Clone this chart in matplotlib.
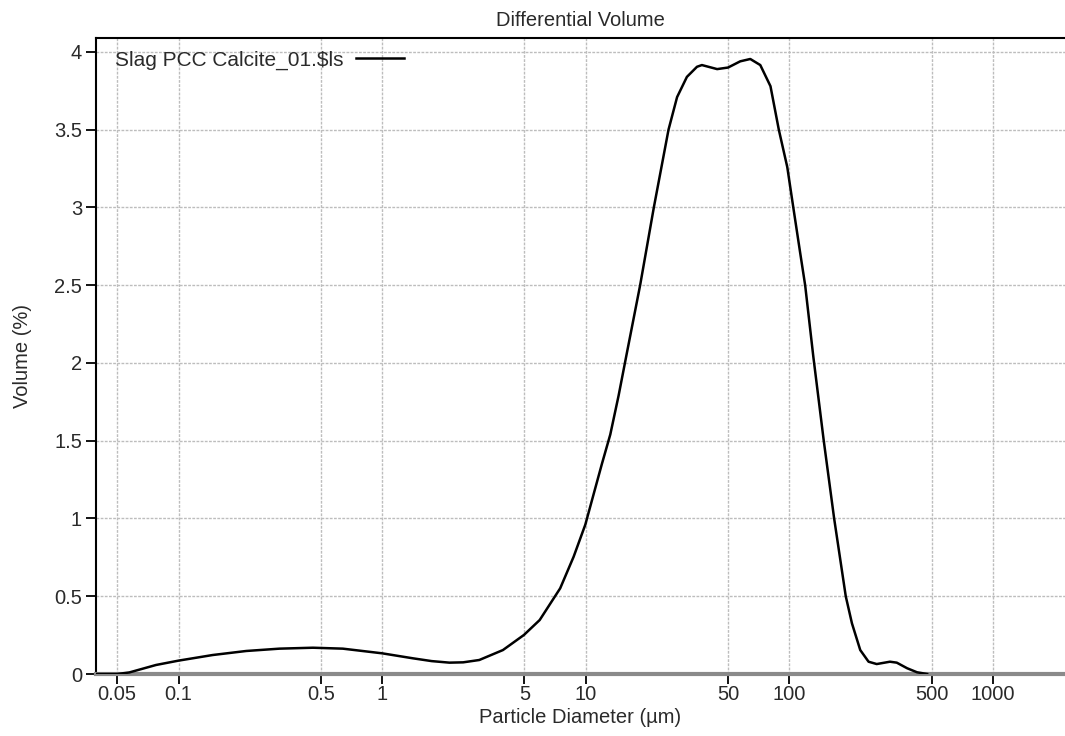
import matplotlib
matplotlib.use("Agg")
import matplotlib.pyplot as plt

plt.rcParams['font.family'] = ['Liberation Sans', 'DejaVu Sans']

diameter_um = [0.0393, 0.05, 0.0573, 0.0775, 0.1, 0.147, 0.215, 0.313, 0.457, 0.641,
               1.0, 1.415, 1.75, 2.14, 2.5, 3.0, 3.92, 4.97, 5.94, 7.49, 8.72, 9.95,
               10.9, 12.0, 13.2, 14.5, 15.9, 18.5, 21.6, 25.5, 28.1, 31.4, 35.2, 37.2,
               44.2, 50, 57.4, 64.3, 72, 80.8, 88.8, 97.7, 104.6, 113, 119.6, 131.2,
               147.6, 166, 189.3, 203, 223, 245, 268.6, 312, 337, 379, 424, 475]
volume_pct = [0.0, 0.0, 0.01, 0.058, 0.086, 0.122, 0.148, 0.163, 0.169, 0.163,
              0.133, 0.101, 0.083, 0.073, 0.075, 0.09, 0.154, 0.251, 0.347, 0.551, 0.754, 0.96,
              1.15, 1.35, 1.54, 1.79, 2.06, 2.5, 3.0, 3.5, 3.71, 3.84, 3.905, 3.916,
              3.89, 3.90, 3.94, 3.955, 3.916, 3.78, 3.50, 3.26, 3.0, 2.71, 2.5, 2.04,
              1.5, 1.0, 0.5, 0.326, 0.154, 0.079, 0.064, 0.079, 0.073, 0.037, 0.011, 0.0]

x_ticks = [0.05, 0.1, 0.5, 1, 5, 10, 50, 100, 500, 1000]
x_tick_labels = ["0.05", "0.1", "0.5", "1", "5", "10", "50", "100", "500", "1000"]
y_ticks = [0, 0.5, 1, 1.5, 2, 2.5, 3, 3.5, 4]
y_tick_labels = ["0", "0.5", "1", "1.5", "2", "2.5", "3", "3.5", "4"]
series_name = r"Slag PCC Calcite_01.\$ls"

fig = plt.figure(figsize=(10.65, 7.36), dpi=100)
ax = fig.add_axes([96/1065, 62/736, 1 - 96/1065, (674-38)/736])

ax.plot(diameter_um, volume_pct, color='black', lw=1.8, label=series_name, zorder=3)

ax.set_xscale('log')
ax.set_xlim(10**(-1.4054), 10**(3.354))
ax.set_ylim(0, 4.09)

ax.set_xticks(x_ticks)
ax.set_xticklabels(x_tick_labels)
ax.minorticks_off()
ax.set_yticks(y_ticks)
ax.set_yticklabels(y_tick_labels)

ax.grid(True, which='major', color='#bdbdbd', linestyle=(0, (2, 1)), linewidth=1.0)
ax.set_axisbelow(True)

for s in ['top', 'left']:
    ax.spines[s].set_color('black')
    ax.spines[s].set_linewidth(1.5)
ax.spines['right'].set_visible(False)
ax.spines['bottom'].set_color('#8a8a8a')
ax.spines['bottom'].set_linewidth(3)

FS = 14.5
ax.tick_params(axis='both', direction='out', length=7, width=1.3, color='black',
               labelsize=FS, labelcolor='#2a2a2a', pad=3)
ax.tick_params(axis='x', pad=1)

ax.set_title("Differential Volume", fontsize=FS, color='#2a2a2a', pad=9)
ax.set_xlabel("Particle Diameter (µm)", fontsize=FS, color='#2a2a2a', labelpad=3)
ax.set_ylabel("Volume (%)", fontsize=FS, color='#2a2a2a', labelpad=16)

leg = ax.legend(loc='upper left', frameon=False, markerfirst=False, fontsize=15,
                handlelength=2.3, handletextpad=0.6, borderaxespad=0.0,
                bbox_to_anchor=(0.011, 0.993), labelcolor='#2a2a2a')

fig.savefig("out.png", dpi=100)
